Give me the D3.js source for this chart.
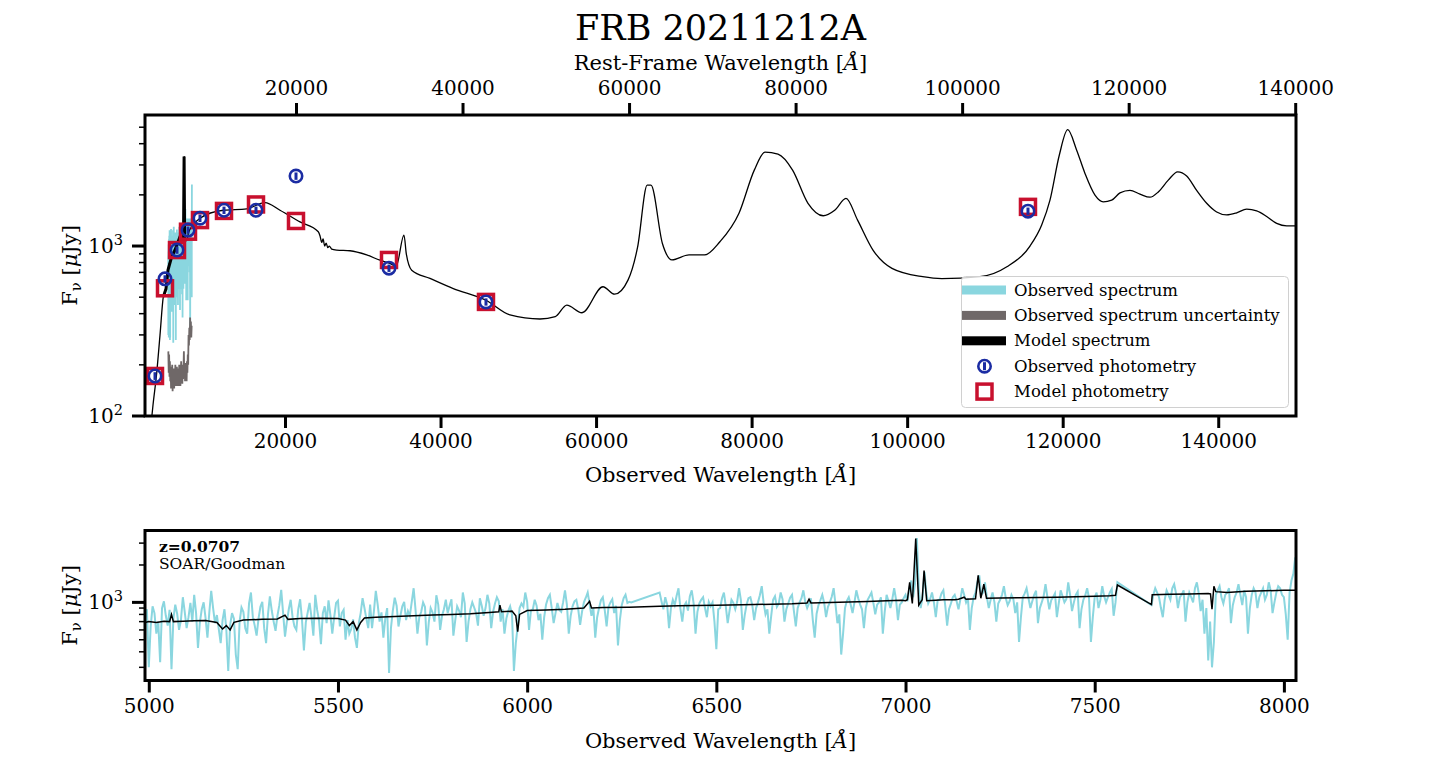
<!DOCTYPE html>
<html>
<head>
<meta charset="utf-8">
<script src="https://cdn.jsdelivr.net/npm/d3@7"></script>
<style>
body { margin: 0; background: #fff; }
svg { display: block; font-family: "DejaVu Serif", serif; }
</style>
</head>
<body>
<script>
// redshift of the host
const redshift = 0.0707;

// photometry (observed wavelength in A, flux in uJy)
const photWave = [3286, 4572, 6115, 7529, 9072, 12158, 16273, 21416, 33373, 45845, 115537];
const photObs = [172, 641, 947, 1241, 1458, 1624, 1624, 2580, 741, 469, 1604];
const photObsErr = [9, 32, 47, 62, 73, 81, 81, 129, 37, 23, 80];
const photModel = [172, 564, 947, 1214, 1421, 1609, 1756, 1404, 828, 469, 1700];

// full model SED
const modelWave = [2707, 3029, 3504, 3929, 4353, 4700, 4957, 5433, 5857, 6243, 6500, 6693, 6950, 7027, 7100, 7362, 7600,
  8000, 9072, 12068, 15077, 17430, 19358, 21930, 24283, 24500, 24720, 24900, 25100, 25300, 25500, 25700, 26000,
  26649, 28359, 30506, 32216, 33500, 34300, 35300, 35600, 36293, 38645, 41641, 45845, 48931, 52788, 54756, 56235,
  58189, 60889, 62381, 64104, 65338, 66573, 67062, 68540, 69762, 71948, 73954, 75921, 78377, 80344, 81720, 83392,
  85269, 87249, 89204, 90683, 92135, 93627, 95607, 98050, 101997, 104453, 109365, 112824, 115794, 117298, 118365,
  119561, 120641, 121798, 122866, 124151, 125218, 126298, 127366, 128652, 129937, 131223, 132290, 133576, 134785,
  135942, 137228, 138514, 139800, 141086, 142372, 143658, 144944, 146230, 147515, 148801, 150000];
const modelFlux = [83, 116, 179, 299, 502, 560, 722, 866, 947, 1055, 1135, 1086, 1100, 3358, 1090, 1086, 1200,
  1300, 1458, 1624, 1655, 1802, 1624, 1386, 1214, 1150, 1050, 1100, 1000, 1040, 980, 1000, 960,
  947, 938, 886, 825, 790, 760, 1160, 900, 721, 645, 562, 480, 393, 372, 384, 449,
  405, 576, 521, 630, 984, 2279, 2279, 1031, 828, 886, 886, 1059, 1559, 2796, 3570, 3470,
  2796, 1784, 1507, 1624, 1906, 1421, 947, 739, 660, 643, 660, 755, 1000, 1330, 1862,
  3420, 4834, 3665, 2675, 1993, 1821, 1862, 2053, 2124, 2020, 1937, 2081, 2441, 2732,
  2585, 2124, 1784, 1586, 1524, 1567, 1647, 1609, 1492, 1360, 1314, 1314];

// SOAR/Goodman spectrum, 5 A sampling from 4990 A (null = no data)
const specStart = 4990, specStep = 5;
const specFlux = [
  760, 880, 300, 640, 930, 820, 560, 700, 330, 900, 1020, 780, 650, 870, 290, 740, 960, 810, 600, 720,
  1100, 840, 620, 760, 990, 700, 1150, 820, 430, 690, 880, 1000, 750, 520, 830, 1240, 900, 680, 790, 610,
  470, 720, 880, 600, 280, 660, 820, 740, 380, 290, 700, 910, 840, 620, 560, 980, 1200, 760, 650, 540,
  740, 920, 1010, 620, 470, 800, 1120, 860, 700, 590, 780, 950, 1260, 820, 530, 700, 880, 1050, 760, 640,
  600, 880, 1060, 720, 410, 690, 830, 990, 760, 540, 1150, 870, 710, 460, 820, 930, 680, 1040, 790, 560,
  760, 990, 1030, 640, 820, 870, 500, 720, 560, 610, 730, 520, 430, 680, 820, 1080, 900, 740, 620, 960,
  620, 850, 1240, 960, 700, 830, 520, 740, 900, 270, 620, 860, 1090, 940, 640, 780, 930, 1010, 720, 850,
  780, 1010, 1300, 870, 560, 760, 840, 1000, 920, 450, 690, 900, 830, 700, 1140, 960, 600, 780, 880, 1050,
  820, 940, 1060, 540, 720, 930, 860, 760, 1200, 980, 480, 700, 880, 1000, 910, 820, 650, 1080, 940, 780,
  900, 1150, 980, 620, 840, 980, 1100, 1020, 700, 880, 560, 740, 850, 930, 800, 280, 470, 640, 900, 980,
  920, 1200, 1010, 600, 860, 880, 1050, 940, 720, 810, 500, 760, 960, 1080, 1150, 900, 680, 820, 990, 870,
  840, 1000, 1250, 960, 560, 780, 930, 1020, 1050, 880, 660, 840, 1000, 1090, 1200, 970, 780, 900, 520, 760,
  900, 1040, 1100, 870, 640, 920, 1000, 1060, 820, 940, 450, 720, 950, 1080, 1150, 990, 1010, 1000, null, null,
  null, null, null, null, null, null, null, null, null, null, null, null, 1200, 1020, 880, 1100, 960, 620, 900, 1050,
  950, 1130, 1300, 890, 700, 940, 1000, 860, 1120, 1250, 980, 560, 840, 980, 1050, 1100, 900, 760, 1010, 930,
  1000, 700, 420, 880, 900, 1080, 1200, 930, 680, 860, 1050, 990, 880, 1010, 1300, 1040, 600, 790, 960, 1080,
  1100, 950, 720, 900, 1000, 1140, 1350, 990, 800, 880, 560, 780, 1050, 1120, 920, 980, 1200, 1060, 700, 880,
  980, 1090, 1150, 850, 640, 900, 1000, 1080, 1250, 1010, 900, 980, 1080, 720, 520, 810, 950, 1040, 1150, 990,
  760, 920, 1000, 1110, 1300, 960, 680, 800, 380, 560, 900, 1030, 1100, 960, 820, 1000, 1250, 1080, 960, 880,
  620, 900, 1050, 1120, 1200, 990, 800, 960, 1000, 1100, 560, 840, 1150, 1020, 900, 1060, 1300, 1050, 720, 960,
  1000, 1080, 1150, 1020, 1300, 1500, 1100, 1400, 3300, 1300, 900, 1100, 1750, 1200, 980, 1060, 1200, 1000, 760, 1040,
  1050, 1180, 1250, 940, 650, 880, 980, 1100, 1150, 1020, 880, 1060, 1300, 1150, 1000, 1080, 600, 900, 1100, 1200,
  1450, 1650, 1150, 1200, 1450, 1100, 900, 1050, 1200, 1000, 700, 980, 1050, 1150, 1350, 1080, 950, 1020, 1150, 1060,
  820, 1000, 480, 760, 1100, 1180, 1300, 1080, 900, 1020, 1150, 1240, 680, 900, 1000, 1120, 1400, 1100, 880, 1040,
  1100, 1180, 760, 980, 1250, 1120, 1000, 1060, 1450, 1150, 850, 1000, 1150, 1220, 620, 880, 1050, 1140, 1300, 1080,
  480, 760, 1100, 1200, 900, 1050, 1350, 1120, 1000, 1100, 1200, 1280, 780, 1000, 1450, null, null, null, null, null,
  null, null, null, null, null, null, null, null, null, null, null, null, 950, 1150, 1300, 1200, 1100, 900, 760, 1050,
  1250, 1150, 1050, 1300, 1400, 1180, 900, 1100, 1150, 1250, 700, 1000, 1200, 1100, 1000, 1300, 1450, 1180, 850, 1050,
  560, 900, 340, 700, 300, 480, 1150, 1250, 1350, 1100, 980, 1150, 1200, 1300, 680, 950, 1100, 1200, 1400, 1150,
  950, 1250, 1100, 560, 900, 1150, 1300, 1200, 900, 1100, 1200, 1300, 1050, 1150, 1450, 1250, 820, 1000, 1200, 1350,
  1300, 1150, 1100, 800, 500, 1200, 1500, 1700, 2300];

// spectrum uncertainty, 50 A sampling from 5000 A
const errStart = 5000, errStep = 50;
const errFlux = [240, 180, 230, 170, 210, 160, 195, 145, 185, 150, 200, 140, 175, 150, 190, 145, 180, 155, 200, 150,
  185, 160, 195, 150, 180, 165, 190, 150, 200, 160, 185, 150, 175, 210, 160, 190, 155, 200, 165, 190,
  240, 170, 195, 160, 205, 175, 190, 160, 210, 180, 230, 200, 300, 260, 330, 280, 380, 300, 360, 290, 340];

// model spectrum over the observed range
const fitWave = [4990, 5000, 5020, 5040, 5055, 5060, 5065, 5090, 5120, 5150, 5180, 5195, 5205, 5215, 5225, 5250, 5300,
  5340, 5360, 5368, 5400, 5450, 5500, 5520, 5530, 5540, 5550, 5560, 5570, 5600, 5650, 5700, 5750, 5800, 5850,
  5900, 5925, 5928, 5932, 5960, 5970, 5975, 5980, 6000, 6050, 6100, 6150, 6165, 6170, 6200, 6270, 6350, 6400,
  6500, 6600, 6700, 6740, 6745, 6750, 6800, 6850, 6900, 6950, 6990, 7000, 7005, 7011, 7018, 7027, 7035, 7044,
  7049, 7056, 7080, 7100, 7130, 7140, 7155, 7160, 7185, 7192, 7199, 7207, 7214, 7250, 7300, 7350, 7400, 7450,
  7500, 7540, 7555, 7560, 7650, 7652, 7700, 7750, 7800, 7806, 7810, 7815, 7820, 7850, 7900, 7950, 8000, 8030];
const fitFlux = [690, 700, 690, 705, 700, 800, 700, 705, 710, 715, 690, 610, 650, 600, 690, 720, 730,
  735, 790, 730, 740, 745, 740, 720, 650, 700, 600, 690, 750, 760, 770, 780, 790, 800, 810,
  830, 840, 950, 840, 850, 780, 580, 800, 860, 870, 880, 900, 1020, 900, 910, 915, 930, 940,
  950, 960, 975, 990, 1060, 990, 1000, 1005, 1015, 1030, 1040, 1030, 1050, 1450, 980, 3265, 950, 1050,
  1800, 1030, 1040, 1050, 1050, 1060, 1100, 1060, 1070, 1650, 1080, 1400, 1080, 1085, 1090, 1095, 1100, 1110,
  1120, 1130, 1140, 1380, 960, 1150, 1160, 1170, 1180, 1170, 880, 1350, 1220, 1200, 1230, 1240, 1250, 1250];

// tick values
const obsTicks = [20000, 40000, 60000, 80000, 100000, 120000, 140000];
const restTicks = [20000, 40000, 60000, 80000, 100000, 120000, 140000];
const zoomTicks = [5000, 5500, 6000, 6500, 7000, 7500, 8000];

const cyan = "#8ad6df", grey = "#6f6868", blue = "#1b2ca3", red = "#c8102e";

const legendItems = [
  {label: "Observed spectrum", kind: "patch", color: cyan},
  {label: "Observed spectrum uncertainty", kind: "patch", color: grey},
  {label: "Model spectrum", kind: "patch", color: "#000"},
  {label: "Observed photometry", kind: "circle", color: blue},
  {label: "Model photometry", kind: "square", color: red}
];

const spec = specFlux.map((f, i) => [specStart + i * specStep, f]).filter(d => d[1] !== null);
const err = errFlux.map((f, i) => [errStart + i * errStep, f]);
const fit = fitWave.map((w, i) => [w, fitFlux[i]]);
const model = modelWave.map((w, i) => [w, modelFlux[i]]);
const phot = photWave.map((w, i) => ({w, obs: photObs[i], e: photObsErr[i], mod: photModel[i]}));

const svg = d3.select("body").append("svg")
  .attr("width", 1440).attr("height", 757)
  .attr("viewBox", [0, 0, 1440, 757]);

const p1 = {left: 145, right: 1296, top: 115, bottom: 416};
const p2 = {left: 145, right: 1296, top: 530.5, bottom: 680.5};

const x1 = d3.scaleLinear().domain([2000, 150000]).range([p1.left, p1.right]);
const xRest = d3.scaleLinear().domain([2000 / (1 + redshift), 150000 / (1 + redshift)]).range([p1.left, p1.right]);
const y1 = d3.scaleLog().domain([100, 5900]).range([p1.bottom, p1.top]);
const x2 = d3.scaleLinear().domain([4990, 8032]).range([p2.left, p2.right]);
const y2 = d3.scaleLog().domain([235, 3790]).range([p2.bottom, p2.top]);

const defs = svg.append("defs");
[["clip1", p1], ["clip2", p2]].forEach(([id, p]) => {
  defs.append("clipPath").attr("id", id).append("rect")
    .attr("x", p.left).attr("y", p.top)
    .attr("width", p.right - p.left).attr("height", p.bottom - p.top);
});

const line = (x, y) => d3.line().x(d => x(d[0])).y(d => y(d[1]));

// ---- top panel ----
const g1 = svg.append("g").attr("clip-path", "url(#clip1)");
g1.append("path").datum(spec).attr("fill", "none").attr("stroke", cyan).attr("stroke-width", 1.8)
  .attr("d", line(x1, y1));
g1.append("path").datum(err).attr("fill", "none").attr("stroke", grey).attr("stroke-width", 1.8)
  .attr("d", line(x1, y1));
g1.append("path").datum(model).attr("fill", "none").attr("stroke", "#000").attr("stroke-width", 1.3)
  .attr("d", line(x1, y1).curve(d3.curveMonotoneX));
g1.append("path").datum(model.filter(d => d[0] > 4100 && d[0] < 7400)).attr("fill", "none")
  .attr("stroke", "#000").attr("stroke-width", 3).attr("d", line(x1, y1));

g1.selectAll("rect.mod").data(phot).join("rect").attr("class", "mod")
  .attr("x", d => x1(d.w) - 7.5).attr("y", d => y1(d.mod) - 7.5)
  .attr("width", 15).attr("height", 15)
  .attr("fill", "none").attr("stroke", red).attr("stroke-width", 3.5);
g1.selectAll("line.err").data(phot).join("line").attr("class", "err")
  .attr("x1", d => x1(d.w)).attr("x2", d => x1(d.w))
  .attr("y1", d => y1(d.obs - d.e)).attr("y2", d => y1(d.obs + d.e))
  .attr("stroke", blue).attr("stroke-width", 3);
g1.selectAll("circle.obs").data(phot).join("circle").attr("class", "obs")
  .attr("cx", d => x1(d.w)).attr("cy", d => y1(d.obs)).attr("r", 6.2)
  .attr("fill", "none").attr("stroke", blue).attr("stroke-width", 2.6);

// ---- bottom panel ----
const g2 = svg.append("g").attr("clip-path", "url(#clip2)");
g2.append("path").datum(spec).attr("fill", "none").attr("stroke", cyan).attr("stroke-width", 2)
  .attr("d", line(x2, y2));
g2.append("path").datum(fit).attr("fill", "none").attr("stroke", "#000").attr("stroke-width", 1.5)
  .attr("d", line(x2, y2));

// ---- axes ----
function styleAxis(g) {
  g.select(".domain").remove();
  g.selectAll(".tick line").attr("stroke", "#000").attr("stroke-width", 3);
  g.selectAll(".tick text").attr("fill", "#000").style("font-size", "20px")
    .style("font-family", "DejaVu Serif");
}

svg.append("g").attr("transform", `translate(0,${p1.bottom})`)
  .call(d3.axisBottom(x1).tickValues(obsTicks).tickSize(12).tickPadding(6).tickFormat(d3.format("d")))
  .call(styleAxis);
svg.append("g").attr("transform", `translate(0,${p1.top})`)
  .call(d3.axisTop(xRest).tickValues(restTicks).tickSize(12).tickPadding(8).tickFormat(d3.format("d")))
  .call(styleAxis);
svg.append("g").attr("transform", `translate(0,${p2.bottom})`)
  .call(d3.axisBottom(x2).tickValues(zoomTicks).tickSize(12).tickPadding(6).tickFormat(d3.format("d")))
  .call(styleAxis);

function logAxis(y, p) {
  const g = svg.append("g");
  const ticks = y.ticks();
  const major = ticks.filter(t => Math.abs(Math.log10(t) - Math.round(Math.log10(t))) < 1e-9);
  g.selectAll("line.minor").data(ticks.filter(t => !major.includes(t))).join("line")
    .attr("x1", p.left - 6).attr("x2", p.left)
    .attr("y1", d => y(d)).attr("y2", d => y(d))
    .attr("stroke", "#000").attr("stroke-width", 1.5);
  g.selectAll("line.major").data(major).join("line")
    .attr("x1", p.left - 13).attr("x2", p.left)
    .attr("y1", d => y(d)).attr("y2", d => y(d))
    .attr("stroke", "#000").attr("stroke-width", 3);
  const t = g.selectAll("text").data(major).join("text")
    .attr("x", p.left - 22).attr("y", d => y(d) + 7)
    .attr("text-anchor", "end").style("font-size", "20px");
  t.append("tspan").text("10");
  t.append("tspan").attr("dy", -8).style("font-size", "14.5px").text(d => Math.round(Math.log10(d)));
}
logAxis(y1, p1);
logAxis(y2, p2);

// frames
[p1, p2].forEach(p => {
  svg.append("rect").attr("x", p.left).attr("y", p.top)
    .attr("width", p.right - p.left).attr("height", p.bottom - p.top)
    .attr("fill", "none").attr("stroke", "#000").attr("stroke-width", 3);
});

// ---- labels ----
const cx = (p1.left + p1.right) / 2;
svg.append("text").attr("x", cx).attr("y", 40).attr("text-anchor", "middle")
  .style("font-size", "35px").text("FRB 20211212A");

function waveLabel(text, y) {
  const t = svg.append("text").attr("x", cx).attr("y", y).attr("text-anchor", "middle").style("font-size", "21px");
  t.append("tspan").text(text + " [");
  t.append("tspan").style("font-style", "italic").text("Å");
  t.append("tspan").text("]");
}
waveLabel("Rest-Frame Wavelength", 70);
waveLabel("Observed Wavelength", 482);
waveLabel("Observed Wavelength", 748);

function fluxLabel(p) {
  const t = svg.append("text")
    .attr("transform", `translate(77,${(p.top + p.bottom) / 2}) rotate(-90)`)
    .attr("text-anchor", "middle").style("font-size", "21px");
  t.append("tspan").text("F");
  t.append("tspan").attr("dy", 4).style("font-size", "15px").text("ν");
  t.append("tspan").attr("dy", -4).text(" [");
  t.append("tspan").style("font-style", "italic").text("μ");
  t.append("tspan").text("Jy]");
}
fluxLabel(p1);
fluxLabel(p2);

svg.append("text").attr("x", 159).attr("y", 552).style("font-size", "15.5px").style("font-weight", "bold")
  .text("z=" + redshift.toFixed(4));
svg.append("text").attr("x", 159).attr("y", 569).style("font-size", "15.5px").text("SOAR/Goodman");

// ---- legend ----
const lg = svg.append("g");
lg.append("rect").attr("x", 961.5).attr("y", 276.5).attr("width", 327).attr("height", 131).attr("rx", 4)
  .attr("fill", "#fff").attr("fill-opacity", 0.8).attr("stroke", "#d0d0d0");
const row = lg.selectAll("g").data(legendItems).join("g")
  .attr("transform", (d, i) => `translate(0,${290 + i * 25.4})`);
row.filter(d => d.kind === "patch").append("rect")
  .attr("x", 962).attr("y", -4.5).attr("width", 44).attr("height", 9).attr("fill", d => d.color);
row.filter(d => d.kind === "circle").call(r => {
  r.append("line").attr("x1", 984.5).attr("x2", 984.5).attr("y1", -4).attr("y2", 4)
    .attr("stroke", d => d.color).attr("stroke-width", 3);
  r.append("circle").attr("cx", 984.5).attr("r", 6.2).attr("fill", "none")
    .attr("stroke", d => d.color).attr("stroke-width", 2.6);
});
row.filter(d => d.kind === "square").append("rect")
  .attr("x", 977).attr("y", -7.5).attr("width", 15).attr("height", 15)
  .attr("fill", "none").attr("stroke", d => d.color).attr("stroke-width", 3.5);
row.append("text").attr("x", 1014).attr("y", 5.5).style("font-size", "16.5px").text(d => d.label);
</script>
</body>
</html>
